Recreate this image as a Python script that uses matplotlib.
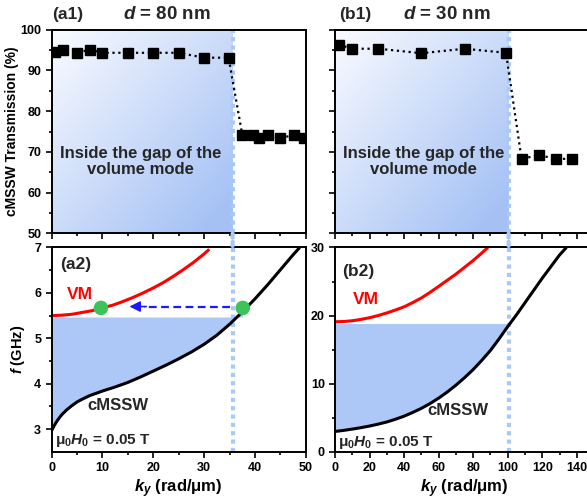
import numpy as np
import matplotlib
matplotlib.use("Agg")
import matplotlib.pyplot as plt
from matplotlib.patches import ConnectionPatch

plt.rcParams['font.family'] = ['Liberation Sans', 'DejaVu Sans']
plt.rcParams['font.weight'] = 'bold'
plt.rcParams['axes.labelweight'] = 'bold'
plt.rcParams['mathtext.fontset'] = 'custom'
plt.rcParams['mathtext.rm'] = 'Liberation Sans:bold'
plt.rcParams['mathtext.it'] = 'Liberation Sans:bold:italic'
plt.rcParams['mathtext.bf'] = 'Liberation Sans:bold'

# ---- data ----
# (a1) d = 80 nm transmission
a1_k = [0.7, 2.3, 5, 7.5, 10, 15, 20, 25, 30, 34.8, 37.5, 39.7, 40.8, 42.6, 45, 47.6, 49.6]
a1_T = [94.4, 95.1, 94.3, 95.1, 94.3, 94.3, 94.3, 94.3, 93.1, 93.1, 74.2, 74.2, 73.3, 74.2, 73.3, 74.2, 73.5]
# (b1) d = 30 nm transmission
b1_k = [2, 10, 25, 50, 75, 99, 108, 118, 128, 137]
b1_T = [96.3, 95.3, 95.3, 94.2, 95.3, 94.3, 68.3, 69.2, 68.3, 68.3]

# (a2) dispersion, d = 80 nm
a2_vm_k = [0, 2, 4, 6, 8, 10, 12, 14, 16, 18, 20, 22, 24, 26, 28, 30, 31]
a2_vm_f = [5.50, 5.51, 5.53, 5.57, 5.61, 5.67, 5.73, 5.81, 5.90, 6.00, 6.11, 6.23, 6.37, 6.52, 6.68, 6.86, 6.96]
a2_sw_k = [0, 0.5, 1, 1.5, 2, 3, 4, 5, 6, 7.5, 9, 10, 12.5, 15, 17.5, 20, 22.5, 25, 27.5,
           30, 32.5, 35, 37.5, 40, 42.5, 45, 47.5, 48.8]
a2_sw_f = [2.97, 3.08, 3.17, 3.25, 3.32, 3.43, 3.52, 3.60, 3.66, 3.74, 3.80, 3.84, 3.93, 4.03,
           4.15, 4.28, 4.41, 4.55, 4.70, 4.87, 5.07, 5.31, 5.58, 5.87, 6.18, 6.51, 6.84, 7.0]
# (b2) dispersion, d = 30 nm
b2_vm_k = [0, 5, 10, 15, 20, 25, 30, 35, 40, 45, 50, 55, 60, 65, 70, 75, 80, 85, 88.5]
b2_vm_f = [19.1, 19.14, 19.25, 19.45, 19.7, 20.02, 20.4, 20.83, 21.3, 21.92, 22.6, 23.42,
           24.3, 25.2, 26.1, 27.1, 28.1, 29.2, 30.0]
b2_sw_k = [0, 5, 10, 15, 20, 25, 30, 35, 40, 45, 50, 55, 60, 65, 70, 75, 80, 85, 90, 95,
           100, 105, 110, 115, 120, 125, 130, 134]
b2_sw_f = [3.0, 3.16, 3.35, 3.56, 3.8, 4.08, 4.4, 4.8, 5.25, 5.8, 6.4, 7.1, 7.9, 8.8, 9.8,
           10.9, 12.1, 13.45, 14.9, 16.6, 18.4, 20.1, 21.9, 23.7, 25.5, 27.2, 28.9, 30.0]

a_gap = 35.6          # edge of the volume-mode gap (rad/um)
b_gap = 100.5
a_fill_top = 5.47     # top of shaded band (GHz)
b_fill_top = 18.85
a_dots_k = [9.7, 37.6]
a_dots_f = [5.67, 5.67]

fill_blue = '#adc8f6'
line_blue = '#a9c8f5'
txt = '#262626'

fig = plt.figure(figsize=(5.87, 5.01), dpi=100)
ax_a1 = fig.add_axes([0.088, 0.534, 0.433, 0.407])
ax_b1 = fig.add_axes([0.571, 0.534, 0.441, 0.407])
ax_a2 = fig.add_axes([0.088, 0.098, 0.433, 0.408])
ax_b2 = fig.add_axes([0.571, 0.098, 0.441, 0.408])

def gradient(ax, x0, x1, y0, y1):
    # white at top-left fading to light blue at bottom-right
    u = np.linspace(0, 1, 200)[None, :]
    v = np.linspace(0, 1, 200)[:, None]
    t = np.clip(0.55 * u + 0.55 * (1 - v), 0, 1)
    c0 = np.array([0.98, 0.985, 1.0])
    c1 = np.array([0.65, 0.76, 0.96])
    img = c0 + (c1 - c0) * t[..., None]
    ax.imshow(img, extent=[x0, x1, y0, y1], origin='lower', aspect='auto', zorder=0,
              interpolation='bilinear')

def style(ax):
    for s in ax.spines.values():
        s.set_linewidth(1.4)
    ax.tick_params(which='both', direction='out', width=1.2, labelsize=9, colors='black')
    ax.tick_params(which='major', length=4)
    ax.tick_params(which='minor', length=2.5)
    for lab in ax.get_xticklabels() + ax.get_yticklabels():
        lab.set_fontweight('bold')

# ---- top panels ----
for ax, k, T, gap, xmax, xmaj, xmin in [(ax_a1, a1_k, a1_T, a_gap, 50, 10, 5),
                                         (ax_b1, b1_k, b1_T, b_gap, 150, 20, 10)]:
    ax.set_xlim(0, xmax)
    ax.set_ylim(50, 100)
    gradient(ax, 0, gap, 50, 100)
    ax.axvline(gap, color=line_blue, lw=3, ls=(0, (1, 1)), zorder=1)
    ax.plot(k, T, ls=':', color='black', lw=1.6, marker='s', ms=7, mfc='black', mec='black', zorder=3)
    ax.set_xticks(np.arange(0, xmax + 1, xmaj))
    ax.set_xticks(np.arange(0, xmax + 1, xmin), minor=True)
    ax.set_xticklabels([])
    ax.set_yticks([50, 60, 70, 80, 90, 100])
    ax.set_yticks(np.arange(55, 100, 10), minor=True)
    style(ax)

ax_a1.set_ylabel('cMSSW Transmission (%)', fontsize=10, labelpad=1)
ax_b1.set_yticklabels([])
ax_a1.text(17.5, 67.6, 'Inside the gap of the\nvolume mode', ha='center', va='center',
           fontsize=12, color=txt, linespacing=1.05)
ax_b1.text(51, 67.6, 'Inside the gap of the\nvolume mode', ha='center', va='center',
           fontsize=12, color=txt, linespacing=1.05)
fig.text(0.088, 0.972, '(a1)', fontsize=12.5, color=txt, va='center', ha='left')
fig.text(0.285, 0.972, r'$d$ = 80 nm', fontsize=13.5, color=txt, va='center', ha='center')
fig.text(0.578, 0.972, '(b1)', fontsize=12.5, color=txt, va='center', ha='left')
fig.text(0.762, 0.972, r'$d$ = 30 nm', fontsize=13.5, color=txt, va='center', ha='center')

# ---- bottom panels ----
for ax, vk, vf, sk, sf, gap, top, xmax, xmaj, xmin in [
        (ax_a2, a2_vm_k, a2_vm_f, a2_sw_k, a2_sw_f, a_gap, a_fill_top, 50, 10, 5),
        (ax_b2, b2_vm_k, b2_vm_f, b2_sw_k, b2_sw_f, b_gap, b_fill_top, 150, 20, 10)]:
    ax.set_xlim(0, xmax)
    sk_a = np.array(sk)
    sf_a = np.array(sf)
    ax.fill_between(sk_a, sf_a, top, where=sf_a <= top + 0.3, interpolate=True,
                    color=fill_blue, lw=0, zorder=0)
    ax.plot(vk, vf, color='red', lw=2.2, zorder=2, solid_capstyle='butt')
    ax.plot(sk, sf, color='black', lw=2.2, zorder=2, solid_capstyle='butt')
    ax.axvline(gap, color=line_blue, lw=3, ls=(0, (1, 1)), zorder=1)
    ax.set_xticks(np.arange(0, xmax + 1, xmaj))
    ax.set_xticks(np.arange(0, xmax + 1, xmin), minor=True)
    ax.set_xlabel(r'$k_y$ (rad/μm)', fontsize=12, labelpad=2)

ax_a2.set_ylim(2.5, 7)
ax_a2.set_yticks([3, 4, 5, 6, 7])
ax_a2.set_yticks(np.arange(3.5, 7, 1), minor=True)
ax_a2.set_ylabel(r'$f$ (GHz)', fontsize=10.5, labelpad=5)
ax_b2.set_ylim(0, 30)
ax_b2.set_yticks([0, 10, 20, 30])
ax_b2.set_yticks([5, 15, 25], minor=True)
style(ax_a2)
style(ax_b2)

ax_a2.scatter(a_dots_k, a_dots_f, s=110, color='#3dc35a', zorder=5, edgecolors='none')
ax_a2.plot([a_gap - 0.6, 18.2], [5.7, 5.7], color='#1a1aff', lw=1.6, ls=(0, (3.5, 2)), zorder=4)
ax_a2.annotate('', xy=(15.3, 5.7), xytext=(18.6, 5.7),
               arrowprops=dict(arrowstyle='-|>', color='#1a1aff', lw=1.2, mutation_scale=16,
                               shrinkA=0, shrinkB=0), zorder=4)

ax_a2.text(1.6, 6.63, '(a2)', fontsize=12.5, color=txt, va='center')
ax_b2.text(4, 26.5, '(b2)', fontsize=12.5, color=txt, va='center')
ax_a2.text(5.5, 5.97, 'VM', color='red', fontsize=12.5, ha='center', va='center')
ax_b2.text(18, 22.3, 'VM', color='red', fontsize=12.5, ha='center', va='center')
ax_a2.text(13, 3.52, 'cMSSW', color=txt, fontsize=12, ha='center', va='center')
ax_b2.text(71, 6.1, 'cMSSW', color=txt, fontsize=12, ha='center', va='center')
ax_a2.text(0.6, 2.75, r'$\mathrm{μ}_0H_0$ = 0.05 T', color=txt, fontsize=11, ha='left', va='center')
ax_b2.text(1.8, 1.4, r'$\mathrm{μ}_0H_0$ = 0.05 T', color=txt, fontsize=11, ha='left', va='center')

# dotted gap line continues through the space between panels
for top_ax, bot_ax, gap, y_top in [(ax_a1, ax_a2, a_gap, 7), (ax_b1, ax_b2, b_gap, 30)]:
    con = ConnectionPatch(xyA=(gap, 50), coordsA=top_ax.transData,
                          xyB=(gap, y_top), coordsB=bot_ax.transData,
                          color=line_blue, lw=3, ls=(0, (1, 1)))
    fig.add_artist(con)

fig.savefig('out.png', dpi=100)
